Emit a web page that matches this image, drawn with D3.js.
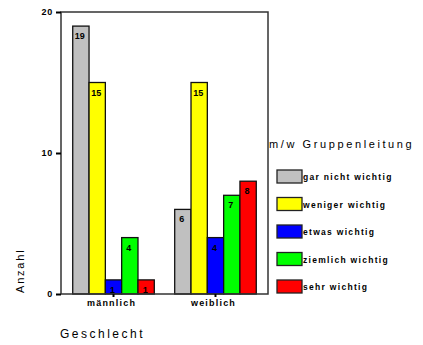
<!DOCTYPE html>
<html><head><meta charset="utf-8">
<script src="https://cdn.jsdelivr.net/npm/d3@7/dist/d3.min.js"></script>
<style>
body{margin:0;background:#fff;}
text{font-family:Arial,"Liberation Sans",sans-serif;fill:#000;}
</style></head>
<body><svg id="c" width="423" height="345"></svg>
<script>
const categories = ["männlich", "weiblich"];
const seriesNames = ["gar nicht wichtig", "weniger wichtig", "etwas wichtig", "ziemlich wichtig", "sehr wichtig"];
const seriesColors = ["#c0c0c0", "#ffff00", "#0000ff", "#00ff00", "#ff0000"];
const valuesMaennlich = [19, 15, 1, 4, 1];
const valuesWeiblich = [6, 15, 4, 7, 8];
const yTicks = [0, 10, 20];
const legendTitle = "m/w Gruppenleitung";
const xTitle = "Geschlecht";
const yTitle = "Anzahl";

const values = [valuesMaennlich, valuesWeiblich];
const svg = d3.select("#c");
const L = 61, R = 268, T = 12, B = 294;

const x0 = d3.scaleBand().domain(categories).range([L, R]).paddingInner(0.2).paddingOuter(0.115);
const x1 = d3.scaleBand().domain(seriesNames).range([0, x0.bandwidth()]);
const y = d3.scaleLinear().domain([0, 20]).range([B, T]);

// bars
categories.forEach((cat, ci) => {
  const g = svg.append("g").attr("transform", `translate(${x0(cat)},0)`);
  seriesNames.forEach((s, si) => {
    const v = values[ci][si];
    g.append("rect")
      .attr("x", x1(s)).attr("y", y(v))
      .attr("width", x1.bandwidth()).attr("height", y(0) - y(v))
      .attr("fill", seriesColors[si]).attr("stroke", "#111").attr("stroke-width", 1.3);
    g.append("text")
      .attr("x", x1(s) + x1.bandwidth() / 2 - 1)
      .attr("y", y(v) + 13)
      .attr("text-anchor", "middle")
      .attr("font-size", 9).attr("font-weight", "bold")
      .text(v);
  });
});

// frame
svg.append("rect").attr("x", L).attr("y", T).attr("width", R - L).attr("height", B - T)
  .attr("fill", "none").attr("stroke", "#333").attr("stroke-width", 1.5);

// y axis
const yAxis = d3.axisLeft(y).tickValues(yTicks).tickSize(5).tickPadding(3);
const ya = svg.append("g").attr("transform", `translate(${L},0)`).call(yAxis);
ya.select(".domain").remove();
ya.selectAll(".tick line").attr("stroke", "#000").attr("stroke-width", 2);
ya.selectAll(".tick text").attr("font-size", 9).attr("font-weight", "bold").style("letter-spacing", "0.8px");

// x axis
const xAxis = d3.axisBottom(x0).tickSize(3).tickPadding(3);
const xa = svg.append("g").attr("transform", `translate(0,${B})`).call(xAxis);
xa.select(".domain").remove();
xa.selectAll(".tick line").attr("stroke", "#000").attr("stroke-width", 2);
xa.selectAll(".tick text").attr("font-size", 9).attr("font-weight", "bold").style("letter-spacing", "1.2px").attr("dx", -2);

// axis titles
svg.append("text").attr("x", 60).attr("y", 338).attr("font-size", 12).style("letter-spacing", "2.5px").text(xTitle);
svg.append("text").attr("transform", "translate(24,293) rotate(-90)").attr("font-size", 11).style("letter-spacing", "1.8px").text(yTitle);

// legend
svg.append("text").attr("x", 269).attr("y", 148).attr("font-size", 11).style("letter-spacing", "2.6px").text(legendTitle);
const lg = svg.append("g");
seriesNames.forEach((s, i) => {
  const ty = 170 + i * 27.5;
  lg.append("rect").attr("x", 277).attr("y", ty).attr("width", 25).attr("height", 13)
    .attr("fill", seriesColors[i]).attr("stroke", "#222").attr("stroke-width", 1.3);
  lg.append("text").attr("x", 303).attr("y", ty + 10).attr("font-size", 8.5).attr("font-weight", "bold")
    .style("letter-spacing", "1.3px").text(s);
});
</script></body></html>
